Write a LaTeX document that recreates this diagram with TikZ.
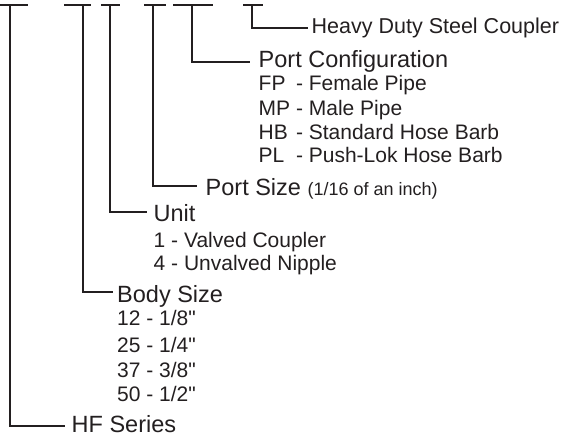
\documentclass[tikz,border=0pt]{standalone}
\usepackage{fontspec}
\newfontfamily\lib{Liberation Sans}
\setmainfont{Liberation Sans}
\definecolor{ink}{HTML}{231F20}
\begin{document}
\begin{tikzpicture}[x=1pt,y=-1pt,
  conn/.style={draw=ink,line width=2.6pt},
  bar/.style={draw=ink,line width=2.6pt},
  head/.style={anchor=base west,inner sep=0pt,text=ink,font=\lib\fontsize{23.5}{28}\selectfont},
  item/.style={anchor=base west,inner sep=0pt,text=ink,font=\lib\fontsize{21}{25}\selectfont},
  heavy/.style={anchor=base west,inner sep=0pt,text=ink,font=\lib\fontsize{21.5}{26}\selectfont},
]
\useasboundingbox (0,0) rectangle (562,436);
% top bars (underlines of the code characters)
\coordinate (b1a) at (0,5);   \coordinate (b1b) at (28,5);
\coordinate (b2a) at (64,5);  \coordinate (b2b) at (91,5);
\coordinate (b3a) at (101,5); \coordinate (b3b) at (120,5);
\coordinate (b4a) at (144,5); \coordinate (b4b) at (166,5);
\coordinate (b5a) at (173,5); \coordinate (b5b) at (213,5);
\coordinate (b6a) at (243,5); \coordinate (b6b) at (263,5);
\foreach \i in {1,...,6} {\draw[bar] (b\i a) -- (b\i b);}
% tops of the leader lines
\coordinate (tHF) at (10,5);
\coordinate (tBody) at (83,5);
\coordinate (tUnit) at (110,5);
\coordinate (tSize) at (153,5);
\coordinate (tConf) at (192,5);
\coordinate (tHeavy) at (252,5);
% headings
\node[heavy] (heavy) at (311.5,34) {Heavy Duty Steel Coupler};
\node[head] (conf) at (258.5,67) {Port Configuration};
\node[head] (size) at (205.5,195) {Port Size {\fontsize{18}{22}\selectfont (1/16 of an inch)}};
\node[head] (unit) at (153.5,221) {Unit};
\node[head] (body) at (117,302) {Body Size};
\node[head] (hf) at (71.5,432) {HF Series};
% items
\node[item] (fp) at (258.5,90) {\makebox[31.5pt][l]{FP} - Female Pipe};
\node[item] (mp) at (258.5,115) {\makebox[31.5pt][l]{MP} - Male Pipe};
\node[item] (hb) at (258.5,139) {\makebox[31.5pt][l]{HB} - Standard Hose Barb};
\node[item] (pl) at (258.5,162) {\makebox[31.5pt][l]{PL} - Push-Lok Hose Barb};
\node[item] (u1) at (153.5,247) {1 - Valved Coupler};
\node[item] (u4) at (153.5,270) {4 - Unvalved Nipple};
\node[item] (s12) at (117,325) {12 - 1/8"};
\node[item] (s25) at (117,352) {25 - 1/4"};
\node[item] (s37) at (117,377) {37 - 3/8"};
\node[item] (s50) at (117,401) {50 - 1/2"};
% connectors
\draw[conn] (tHeavy) |- ([xshift=-3.5pt,yshift=6pt]heavy.base west);
\draw[conn] (tConf) |- ([xshift=-8.5pt,yshift=5pt]conf.base west);
\draw[conn] (tSize) |- ([xshift=-8.5pt,yshift=9pt]size.base west);
\draw[conn] (tUnit) |- ([xshift=-6.5pt,yshift=9pt]unit.base west);
\draw[conn] (tBody) |- ([xshift=-4pt,yshift=10pt]body.base west);
\draw[conn] (tHF) |- ([xshift=-6.5pt,yshift=6pt]hf.base west);
\end{tikzpicture}
\end{document}
